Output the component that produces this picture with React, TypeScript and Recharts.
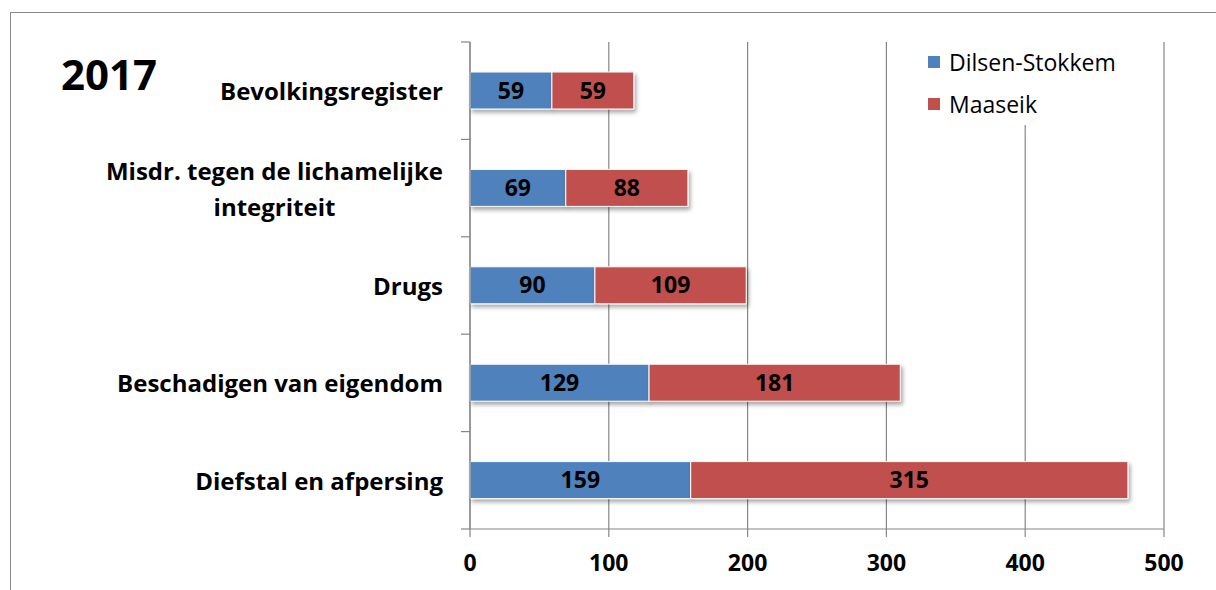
import React from "react";
import {
  BarChart,
  Bar,
  XAxis,
  YAxis,
  CartesianGrid,
  LabelList,
} from "recharts";

const categories = [
  "Bevolkingsregister",
  "Misdr. tegen de lichamelijke integriteit",
  "Drugs",
  "Beschadigen van eigendom",
  "Diefstal en afpersing",
];
const categoryLines = [
  ["Bevolkingsregister"],
  ["Misdr. tegen de lichamelijke", "integriteit"],
  ["Drugs"],
  ["Beschadigen van eigendom"],
  ["Diefstal en afpersing"],
];
const dilsenStokkem = [59, 69, 90, 129, 159];
const maaseik = [59, 88, 109, 181, 315];
const xTicks = [0, 100, 200, 300, 400, 500];
const seriesNames = ["Dilsen-Stokkem", "Maaseik"];
const title = "2017";

const data = categories.map((c, i) => ({
  name: c,
  ds: dilsenStokkem[i],
  ms: maaseik[i],
}));

const W = 1216;
const H = 590;
const M = { top: 42, right: 52, bottom: 31, left: 0 };
const Y_AXIS_W = 470;
const X_AXIS_H = 30;
const PLOT_H = H - M.top - M.bottom - X_AXIS_H;
const BAND = PLOT_H / categories.length;
const FONT = "'Open Sans', Carlito, Lato, sans-serif";
const GRID = "#868686";
const BLUE = "#4F81BD";
const RED = "#C0504D";
const CAT_SIZE = 24;
const VAL_SIZE = 23;

let canvasCtx: CanvasRenderingContext2D | null = null;
function measure(text: string, font: string) {
  if (!canvasCtx) {
    const c = document.createElement("canvas");
    canvasCtx = c.getContext("2d");
  }
  if (!canvasCtx) return text.length * 12;
  canvasCtx.font = font;
  return canvasCtx.measureText(text).width;
}

const CatTick = (props: any) => {
  const { y, index } = props;
  const axisX = Y_AXIS_W;
  const rightX = axisX - 27;
  const lines = categoryLines[index] || [String(props.payload?.value)];
  const lineH = 36;
  const font = `bold ${CAT_SIZE}px 'Open Sans'`;
  const maxW = Math.max(...lines.map((l) => measure(l, font)));
  const cx = rightX - maxW / 2;
  const startY = y - ((lines.length - 1) * lineH) / 2;
  return (
    <g>
      <line x1={axisX - 9} x2={axisX} y1={y - BAND / 2} y2={y - BAND / 2} stroke={GRID} strokeWidth={1.2} />
      {index === categories.length - 1 && (
        <line x1={axisX - 9} x2={axisX} y1={y + BAND / 2} y2={y + BAND / 2} stroke={GRID} strokeWidth={1.2} />
      )}
      {lines.map((l, i) => (
        <text
          key={i}
          x={lines.length > 1 ? cx : rightX}
          y={startY + i * lineH}
          textAnchor={lines.length > 1 ? "middle" : "end"}
          dominantBaseline="central"
          fontFamily={FONT}
          fontWeight="bold"
          fontSize={CAT_SIZE}
          fill="#000"
        >
          {l}
        </text>
      ))}
    </g>
  );
};

const LegendBox = () => (
  <div
    style={{
      position: "absolute",
      left: 920,
      top: 42,
      background: "#fff",
      width: 215,
      height: 83,
      fontFamily: FONT,
      fontSize: 23,
      color: "#000",
    }}
  >
    {seriesNames.map((n, i) => (
      <div
        key={n}
        style={{
          position: "absolute",
          left: 8,
          top: 5 + i * 42,
          display: "flex",
          alignItems: "center",
          height: 30,
          whiteSpace: "nowrap",
        }}
      >
        <span
          style={{
            display: "inline-block",
            width: 12,
            height: 12,
            background: i === 0 ? BLUE : RED,
            marginRight: 9,
          }}
        />
        <span>{n}</span>
      </div>
    ))}
  </div>
);

export default function App() {
  return (
    <div style={{ position: "absolute", left: 0, top: 0, width: W, height: H, background: "#fff", overflow: "hidden" }}>
      <svg width={0} height={0} style={{ position: "absolute" }}>
        <defs>
          <filter id="barShadow" x="-10%" y="-30%" width="130%" height="180%">
            <feDropShadow dx={2} dy={3} stdDeviation={2} floodColor="#000" floodOpacity={0.35} />
          </filter>
        </defs>
      </svg>
      <div
        style={{
          position: "absolute",
          left: 10,
          top: 12,
          width: W,
          height: H,
          border: "1.5px solid #8a8a8a",
          boxSizing: "border-box",
        }}
      />
      <BarChart
        width={W}
        height={H}
        data={data}
        layout="vertical"
        margin={M}
        barSize={37}
        style={{ position: "absolute", left: 0, top: 0 }}
      >
        <CartesianGrid horizontal={false} vertical={true} stroke={GRID} strokeWidth={1.2} />
        <XAxis
          type="number"
          domain={[0, 500]}
          ticks={xTicks}
          interval={0}
          height={X_AXIS_H}
          axisLine={{ stroke: GRID, strokeWidth: 1.2 }}
          tickLine={{ stroke: GRID, strokeWidth: 1.2 }}
          tickSize={8}
          tickMargin={18}
          tick={{ fontFamily: FONT, fontWeight: "bold", fontSize: VAL_SIZE, fill: "#000" }}
        />
        <YAxis
          type="category"
          dataKey="name"
          width={Y_AXIS_W}
          interval={0}
          axisLine={{ stroke: GRID, strokeWidth: 1.2 }}
          tickLine={false}
          tick={<CatTick />}
        />
        <Bar
          dataKey="ds"
          name={seriesNames[0]}
          stackId="a"
          fill={BLUE}
          stroke="#fff"
          strokeWidth={1}
          filter="url(#barShadow)"
          isAnimationActive={false}
        >
          <LabelList
            dataKey="ds"
            position="center"
            fill="#000"
            style={{ fontFamily: FONT, fontWeight: "bold", fontSize: VAL_SIZE }}
          />
        </Bar>
        <Bar
          dataKey="ms"
          name={seriesNames[1]}
          stackId="a"
          fill={RED}
          stroke="#fff"
          strokeWidth={1}
          filter="url(#barShadow)"
          isAnimationActive={false}
        >
          <LabelList
            dataKey="ms"
            position="center"
            fill="#000"
            style={{ fontFamily: FONT, fontWeight: "bold", fontSize: VAL_SIZE }}
          />
        </Bar>
      </BarChart>
      <LegendBox />
      <div
        style={{
          position: "absolute",
          left: 61,
          top: 45,
          fontFamily: FONT,
          fontWeight: "bold",
          fontSize: 42,
          lineHeight: "58px",
          color: "#000",
        }}
      >
        {title}
      </div>
    </div>
  );
}
